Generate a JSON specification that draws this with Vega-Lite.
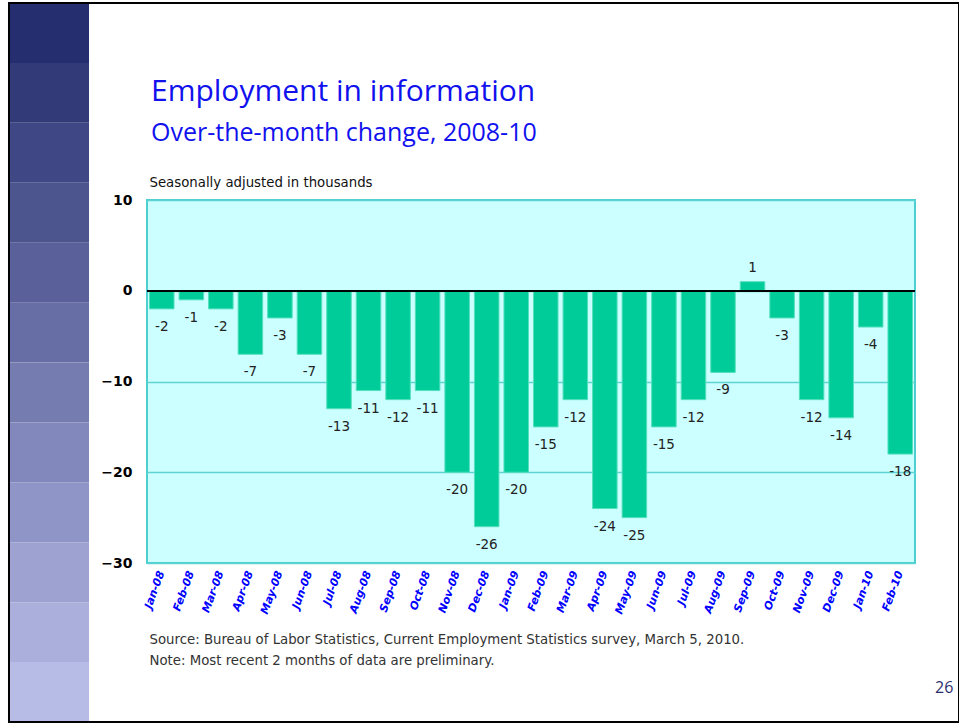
{
  "$schema": "https://vega.github.io/schema/vega-lite/v6.json",
  "background": "white",
  "padding": {"left": 7, "top": 2, "right": 0, "bottom": 0},
  "config": {"view": {"stroke": null}, "font": "Open Sans"},
  "width": 768,
  "height": 363,
  "view": {"fill": "#CCFFFF", "stroke": "#4ECFCF", "strokeWidth": 2},
  "title": {
    "text": "Employment in information",
    "subtitle": "Over-the-month change, 2008-10",
    "anchor": "start",
    "frame": "group",
    "dx": 4,
    "font": "Open Sans",
    "fontSize": 30,
    "fontWeight": "normal",
    "color": "#1111EE",
    "subtitleFont": "Open Sans",
    "subtitleFontSize": 25,
    "subtitleColor": "#1111EE",
    "subtitlePadding": 14,
    "offset": -144
  },
  "data": {"values": [
    {"month": "Jan-08", "value": -2},
    {"month": "Feb-08", "value": -1},
    {"month": "Mar-08", "value": -2},
    {"month": "Apr-08", "value": -7},
    {"month": "May-08", "value": -3},
    {"month": "Jun-08", "value": -7},
    {"month": "Jul-08", "value": -13},
    {"month": "Aug-08", "value": -11},
    {"month": "Sep-08", "value": -12},
    {"month": "Oct-08", "value": -11},
    {"month": "Nov-08", "value": -20},
    {"month": "Dec-08", "value": -26},
    {"month": "Jan-09", "value": -20},
    {"month": "Feb-09", "value": -15},
    {"month": "Mar-09", "value": -12},
    {"month": "Apr-09", "value": -24},
    {"month": "May-09", "value": -25},
    {"month": "Jun-09", "value": -15},
    {"month": "Jul-09", "value": -12},
    {"month": "Aug-09", "value": -9},
    {"month": "Sep-09", "value": 1},
    {"month": "Oct-09", "value": -3},
    {"month": "Nov-09", "value": -12},
    {"month": "Dec-09", "value": -14},
    {"month": "Jan-10", "value": -4},
    {"month": "Feb-10", "value": -18}
  ]},
  "resolve": {"scale": {"x": "independent"}, "axis": {"x": "independent"}},
  "layer": [
    {
      "transform": [{"filter": "datum.month == 'Jan-08'"}],
      "layer": [
        {"mark": {"type": "rect", "color": "#252E6E"}, "encoding": {"x": {"datum": -0.1797, "type": "quantitative", "scale": {"domain": [0, 1], "nice": false, "zero": false}, "axis": null}, "x2": {"datum": -0.0755}, "y": {"datum": 31.7, "type": "quantitative"}, "y2": {"datum": 25.1}}},
        {"mark": {"type": "rect", "color": "#323A78"}, "encoding": {"x": {"datum": -0.1797, "type": "quantitative"}, "x2": {"datum": -0.0755}, "y": {"datum": 25.1, "type": "quantitative"}, "y2": {"datum": 18.5}}},
        {"mark": {"type": "rect", "color": "#3F4884"}, "encoding": {"x": {"datum": -0.1797, "type": "quantitative"}, "x2": {"datum": -0.0755}, "y": {"datum": 18.5, "type": "quantitative"}, "y2": {"datum": 11.89}}},
        {"mark": {"type": "rect", "color": "#4D558F"}, "encoding": {"x": {"datum": -0.1797, "type": "quantitative"}, "x2": {"datum": -0.0755}, "y": {"datum": 11.89, "type": "quantitative"}, "y2": {"datum": 5.29}}},
        {"mark": {"type": "rect", "color": "#5A619A"}, "encoding": {"x": {"datum": -0.1797, "type": "quantitative"}, "x2": {"datum": -0.0755}, "y": {"datum": 5.29, "type": "quantitative"}, "y2": {"datum": -1.31}}},
        {"mark": {"type": "rect", "color": "#676EA5"}, "encoding": {"x": {"datum": -0.1797, "type": "quantitative"}, "x2": {"datum": -0.0755}, "y": {"datum": -1.31, "type": "quantitative"}, "y2": {"datum": -7.91}}},
        {"mark": {"type": "rect", "color": "#757CB0"}, "encoding": {"x": {"datum": -0.1797, "type": "quantitative"}, "x2": {"datum": -0.0755}, "y": {"datum": -7.91, "type": "quantitative"}, "y2": {"datum": -14.51}}},
        {"mark": {"type": "rect", "color": "#8288BB"}, "encoding": {"x": {"datum": -0.1797, "type": "quantitative"}, "x2": {"datum": -0.0755}, "y": {"datum": -14.51, "type": "quantitative"}, "y2": {"datum": -21.11}}},
        {"mark": {"type": "rect", "color": "#8F95C6"}, "encoding": {"x": {"datum": -0.1797, "type": "quantitative"}, "x2": {"datum": -0.0755}, "y": {"datum": -21.11, "type": "quantitative"}, "y2": {"datum": -27.72}}},
        {"mark": {"type": "rect", "color": "#9DA2D1"}, "encoding": {"x": {"datum": -0.1797, "type": "quantitative"}, "x2": {"datum": -0.0755}, "y": {"datum": -27.72, "type": "quantitative"}, "y2": {"datum": -34.32}}},
        {"mark": {"type": "rect", "color": "#AAAFDB"}, "encoding": {"x": {"datum": -0.1797, "type": "quantitative"}, "x2": {"datum": -0.0755}, "y": {"datum": -34.32, "type": "quantitative"}, "y2": {"datum": -40.92}}},
        {"mark": {"type": "rect", "color": "#B7BCE6"}, "encoding": {"x": {"datum": -0.1797, "type": "quantitative"}, "x2": {"datum": -0.0755}, "y": {"datum": -40.92, "type": "quantitative"}, "y2": {"datum": -47.52}}},
        {"mark": {"type": "rect", "filled": false, "color": "#000000", "strokeWidth": 2}, "encoding": {"x": {"datum": -0.1797, "type": "quantitative"}, "x2": {"datum": 1.0573}, "y": {"datum": 31.7, "type": "quantitative"}, "y2": {"datum": -47.52}}}
      ]
    },
    {
      "layer": [
        {
          "mark": {"type": "bar", "fill": "#00CC99", "stroke": "#55E0BC", "strokeWidth": 1},
          "encoding": {
            "x": {
              "field": "month", "type": "ordinal", "sort": null,
              "scale": {"paddingInner": 0.17, "paddingOuter": 0.085},
              "axis": {
                "orient": "bottom", "domain": false, "ticks": false,
                "labelAngle": -70, "labelFont": "DejaVu Sans", "labelFontWeight": "bold", "labelFontStyle": "italic",
                "labelFontSize": 11, "labelColor": "#0000FF", "labelPadding": 8,
                "title": ["Source:  Bureau of Labor Statistics, Current Employment Statistics survey, March 5, 2010.", "Note:  Most recent 2 months of data are preliminary."],
                "titleAnchor": "start", "titleAlign": "left", "titleBaseline": "middle",
                "titleX": 2, "titleY": 76, "titleFont": "DejaVu Sans", "titleFontSize": 13.3, "titleFontWeight": "normal",
                "titleColor": "#333333", "titleLineHeight": 21
              }
            },
            "y": {
              "field": "value", "type": "quantitative",
              "scale": {"domain": [-30, 10], "nice": false, "zero": false},
              "axis": {
                "values": [10, 0, -10, -20, -30], "grid": true, "gridColor": "#5FD3D3", "gridWidth": 1.5,
                "domain": false, "ticks": false,
                "labelFont": "DejaVu Sans", "labelFontWeight": "bold", "labelFontSize": 14, "labelColor": "#000000", "labelPadding": 15,
                "title": "Seasonally adjusted in thousands", "titleAngle": 0, "titleAlign": "left", "titleBaseline": "middle",
                "titleX": 2, "titleY": -18, "titleFont": "DejaVu Sans", "titleFontSize": 13.3, "titleFontWeight": "normal", "titleColor": "#111111"
              }
            }
          }
        },
        {
          "mark": {"type": "rule", "color": "#000000", "strokeWidth": 1.5},
          "encoding": {"y": {"datum": 0, "type": "quantitative"}}
        },
        {
          "transform": [{"filter": "datum.value < 0"}],
          "mark": {"type": "text", "baseline": "middle", "dy": 18, "font": "DejaVu Sans", "fontSize": 13.5, "color": "#222222"},
          "encoding": {
            "x": {"field": "month", "type": "ordinal", "sort": null},
            "y": {"field": "value", "type": "quantitative"},
            "text": {"field": "value", "type": "nominal"}
          }
        },
        {
          "transform": [{"filter": "datum.value >= 0"}],
          "mark": {"type": "text", "baseline": "middle", "dy": -14, "font": "DejaVu Sans", "fontSize": 13.5, "color": "#222222"},
          "encoding": {
            "x": {"field": "month", "type": "ordinal", "sort": null},
            "y": {"field": "value", "type": "quantitative"},
            "text": {"field": "value", "type": "nominal"}
          }
        },
        {
          "transform": [{"filter": "datum.month == 'Feb-10'"}],
          "mark": {"type": "text", "text": "26", "baseline": "middle", "align": "center", "dx": 44, "dy": 125, "font": "Open Sans", "fontSize": 16, "color": "#2B2F6E"},
          "encoding": {
            "x": {"field": "month", "type": "ordinal", "sort": null},
            "y": {"datum": -30, "type": "quantitative"}
          }
        }
      ]
    }
  ]
}
